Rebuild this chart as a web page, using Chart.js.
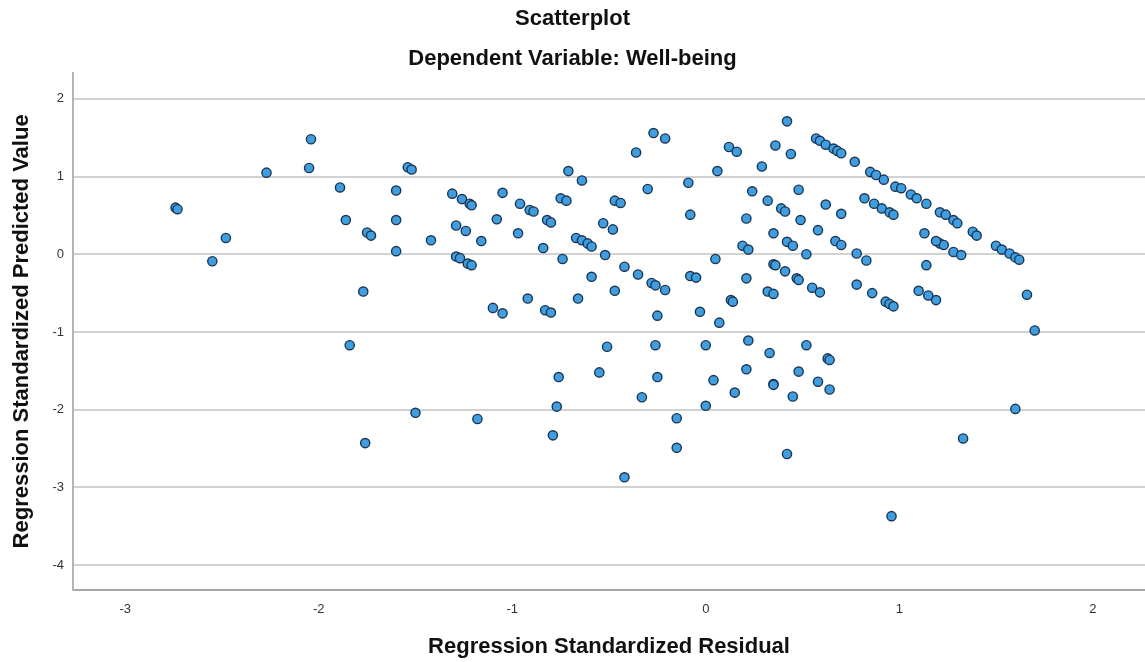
<!DOCTYPE html>
<html>
<head>
<meta charset="utf-8">
<script src="https://cdn.jsdelivr.net/npm/chart.js@4"></script>
<style>
  body { margin: 0; background: #fff; }
  canvas { display: block; }
</style>
</head>
<body>
<canvas id="scatterChart" width="1145" height="662"></canvas>
<script>
// regression standardized residual (x) / standardized predicted value (y)
const residual = [
  -2.74, -2.73, -2.48, -2.55, -2.27, -2.05, -2.04, -1.89, -1.86, -1.75,
  -1.73, -1.77, -1.84, -1.76, -1.60, -1.60, -1.60, -1.54, -1.52, -1.42,
  -1.50, -1.31, -1.26, -1.22, -1.21, -1.05, -0.96, -0.91, -0.89, -1.29,
  -1.24, -1.08, -1.16, -0.97, -1.29, -1.27, -1.23, -1.21, -1.10, -1.05,
  -0.92, -1.18, -0.27, -0.21, -0.36, -0.71, -0.64, -0.30, -0.75, -0.72,
  -0.47, -0.44, -0.82, -0.80, -0.53, -0.48, -0.67, -0.64, -0.61, -0.59,
  -0.84, -0.74, -0.52, -0.42, -0.35, -0.28, -0.26, -0.21, -0.59, -0.47,
  -0.66, -0.83, -0.80, -0.25, -0.26, -0.51, -0.76, -0.55, -0.25, -0.33,
  -0.77, -0.79, -0.42, -0.15, -0.15, 0.42, 0.12, 0.16, 0.36, 0.44,
  0.06, 0.29, -0.09, 0.24, 0.32, 0.39, 0.41, 0.48, 0.49, -0.08,
  0.21, 0.35, 0.42, 0.45, 0.19, 0.22, 0.52, 0.05, -0.08, -0.05,
  0.21, 0.35, 0.36, 0.41, 0.47, 0.48, 0.13, 0.14, 0.32, 0.35,
  -0.03, 0.07, 0.00, 0.22, 0.33, 0.52, 0.04, 0.21, 0.35, 0.35,
  0.48, 0.15, 0.45, 0.00, 0.42, 0.96, 1.60, 1.33, 1.66, 1.70,
  1.50, 1.53, 1.57, 1.60, 1.62, 1.38, 1.40, 1.21, 1.24, 1.28,
  1.30, 1.21, 1.23, 1.28, 1.32, 1.19, 0.57, 0.59, 0.62, 0.66,
  0.68, 0.70, 0.77, 0.85, 0.88, 0.92, 0.98, 1.01, 1.06, 1.09,
  1.14, 0.62, 0.70, 0.82, 0.87, 0.91, 0.95, 0.97, 0.58, 0.67,
  0.70, 0.78, 0.83, 1.13, 1.19, 1.14, 0.55, 0.59, 0.78, 0.86,
  0.93, 0.95, 0.97, 1.10, 1.15, 0.63, 0.64, 0.58, 0.64
];
const predicted = [
  0.60, 0.58, 0.21, -0.09, 1.05, 1.11, 1.48, 0.86, 0.44, 0.28,
  0.24, -0.48, -1.17, -2.43, 0.82, 0.44, 0.04, 1.12, 1.09, 0.18,
  -2.04, 0.78, 0.71, 0.65, 0.63, 0.79, 0.65, 0.57, 0.55, 0.37,
  0.30, 0.45, 0.17, 0.27, -0.03, -0.05, -0.12, -0.14, -0.69, -0.76,
  -0.57, -2.12, 1.56, 1.49, 1.31, 1.07, 0.95, 0.84, 0.72, 0.69,
  0.69, 0.66, 0.44, 0.41, 0.40, 0.32, 0.21, 0.18, 0.14, 0.10,
  0.08, -0.06, -0.01, -0.16, -0.26, -0.37, -0.40, -0.46, -0.29, -0.47,
  -0.57, -0.72, -0.75, -0.79, -1.17, -1.19, -1.58, -1.52, -1.58, -1.84,
  -1.96, -2.33, -2.87, -2.49, -2.11, 1.71, 1.38, 1.32, 1.40, 1.29,
  1.07, 1.13, 0.92, 0.81, 0.69, 0.59, 0.55, 0.83, 0.44, 0.51,
  0.46, 0.27, 0.16, 0.11, 0.11, 0.06, 0.00, -0.06, -0.28, -0.30,
  -0.31, -0.13, -0.14, -0.22, -0.31, -0.33, -0.59, -0.61, -0.48, -0.51,
  -0.74, -0.88, -1.17, -1.11, -1.27, -1.17, -1.62, -1.48, -1.67, -1.68,
  -1.51, -1.78, -1.83, -1.95, -2.57, -3.37, -1.99, -2.37, -0.52, -0.98,
  0.11, 0.06, 0.01, -0.04, -0.07, 0.29, 0.24, 0.54, 0.51, 0.44,
  0.40, 0.14, 0.12, 0.03, -0.01, -0.59, 1.49, 1.46, 1.41, 1.36,
  1.33, 1.30, 1.19, 1.06, 1.02, 0.96, 0.87, 0.85, 0.77, 0.72,
  0.65, 0.64, 0.52, 0.72, 0.65, 0.59, 0.54, 0.51, 0.31, 0.17,
  0.12, 0.01, -0.08, 0.27, 0.17, -0.14, -0.43, -0.49, -0.39, -0.50,
  -0.61, -0.64, -0.67, -0.47, -0.53, -1.34, -1.36, -1.64, -1.74
];
const xTicks = [-3, -2, -1, 0, 1, 2];
const yTicks = [-4, -3, -2, -1, 0, 1, 2];

Chart.defaults.font.family = "'Liberation Sans', Arial, sans-serif";
Chart.defaults.color = "#222";

const points = residual.map((r, i) => ({ x: r, y: predicted[i] }));

const config = {
  type: "scatter",
  data: {
    datasets: [
      {
        label: "Well-being",
        data: points,
        backgroundColor: "#3d9fe2",
        borderColor: "#1c3552",
        borderWidth: 1.4,
        pointRadius: 4.6,
        pointHoverRadius: 4.6,
      },
    ],
  },
  options: {
    responsive: false,
    animation: false,
    devicePixelRatio: 1,
    layout: { padding: 0, autoPadding: false },
    plugins: {
      legend: { display: false },
      tooltip: { enabled: false },
      title: {
        display: true,
        text: "Scatterplot",
        font: { size: 22, weight: "bold" },
        color: "#111",
        padding: { top: 6, bottom: 13 },
      },
      subtitle: {
        display: true,
        text: "Dependent Variable: Well-being",
        font: { size: 22, weight: "bold" },
        color: "#111",
        padding: { top: 0, bottom: 1 },
      },
    },
    scales: {
      x: {
        type: "linear",
        min: -3.27,
        max: 2.27,
        afterBuildTicks: (scale) => {
          scale.ticks = xTicks.map((v) => ({ value: v }));
        },
        afterFit: (scale) => {
          scale.height = 72;
          scale.paddingLeft = 0;
          scale.paddingRight = 0;
        },
        grid: { display: false, drawTicks: false },
        border: { display: true, color: "#a8a8a8", width: 2 },
        ticks: { font: { size: 13 }, color: "#333", padding: 12 },
        title: {
          display: true,
          text: "Regression Standardized Residual",
          font: { size: 22, weight: "bold" },
          color: "#111",
          padding: { top: 0, bottom: 2 },
        },
      },
      y: {
        type: "linear",
        min: -4.32,
        max: 2.335,
        afterBuildTicks: (scale) => {
          scale.ticks = yTicks.map((v) => ({ value: v }));
        },
        afterFit: (scale) => {
          scale.width = 73;
        },
        grid: { color: "#d2d2d2", lineWidth: 2, drawTicks: false },
        border: { display: true, color: "#b4b4b4", width: 2 },
        ticks: { font: { size: 13 }, color: "#333", padding: 9 },
        title: {
          display: true,
          text: "Regression Standardized Predicted Value",
          font: { size: 22, weight: "bold" },
          color: "#111",
          padding: { top: 9, bottom: 0 },
        },
      },
    },
  },
};

const myChart = new Chart(document.getElementById("scatterChart"), config);
</script>
</body>
</html>
